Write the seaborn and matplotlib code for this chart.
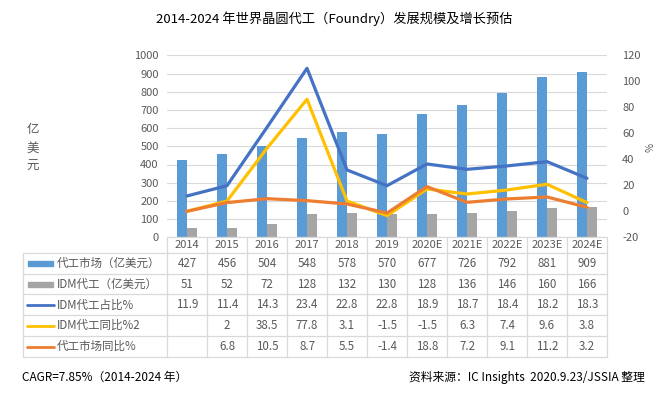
import pandas as pd
import seaborn as sns
import matplotlib.pyplot as plt
import matplotlib.transforms as mtransforms
from matplotlib.patches import Rectangle
from matplotlib.lines import Line2D

years = ['2014', '2015', '2016', '2017', '2018', '2019', '2020E', '2021E', '2022E', '2023E', '2024E']
foundry_market = [427, 456, 504, 548, 578, 570, 677, 726, 792, 881, 909]
idm_foundry = [51, 52, 72, 128, 132, 130, 128, 136, 146, 160, 166]

# line values as drawn in the picture (right axis, %)
idm_share_line = [11.8, 19.7, 64.6, 110.0, 31.8, 19.7, 36.4, 32.3, 34.9, 38.2, 25.4]
idm_yoy_line = [0.0, 7.9, 48.5, 86.2, 7.9, -3.3, 17.2, 13.3, 16.4, 20.8, 6.7]
market_yoy_line = [0.0, 6.7, 9.7, 8.2, 5.6, -1.3, 19.0, 6.9, 9.5, 11.0, 3.1]

# table texts
tbl_share = ['11.9', '11.4', '14.3', '23.4', '22.8', '22.8', '18.9', '18.7', '18.4', '18.2', '18.3']
tbl_idm_yoy = ['', '2', '38.5', '77.8', '3.1', '-1.5', '-1.5', '6.3', '7.4', '9.6', '3.8']
tbl_mkt_yoy = ['', '6.8', '10.5', '8.7', '5.5', '-1.4', '18.8', '7.2', '9.1', '11.2', '3.2']

row_names = ['代工市场（亿美元）', 'IDM代工（亿美元）', 'IDM代工占比%', 'IDM代工同比%2', '代工市场同比%']
c_bar1, c_bar2 = '#5B9BD5', '#A5A5A5'
c_l1, c_l2, c_l3 = '#4472C4', '#FFC000', '#ED7D31'
grey_txt = '#595959'
grid_c = '#D9D9D9'

sns.set_style('white')
plt.rcParams['font.family'] = ['Noto Sans CJK SC', 'DejaVu Sans']
plt.rcParams['axes.unicode_minus'] = False

W, H = 669, 393
fig = plt.figure(figsize=(W / 100, H / 100), dpi=100)
x0, x1, y0, y1 = 167, 607, 237.3, 55.3
ax = fig.add_axes([x0 / W, 1 - y0 / H, (x1 - x0) / W, (y0 - y1) / H])

df = pd.DataFrame({
    'year': years * 2,
    'value': foundry_market + idm_foundry,
    'series': ['代工市场（亿美元）'] * len(years) + ['IDM代工（亿美元）'] * len(years),
})
sns.barplot(data=df, x='year', y='value', hue='series', palette=[c_bar1, c_bar2],
            width=0.5, saturation=1, legend=False, linewidth=0, ax=ax)
ax.set_ylim(0, 1000)
ax.set_yticks(range(0, 1001, 100))
ax.set_xlim(-0.5, len(years) - 0.5)
ax.set_xlabel('')
ax.set_ylabel('')
ax.set_xticks([])
ax.grid(axis='y', color=grid_c, lw=0.8)
ax.set_axisbelow(True)
for s in ax.spines.values():
    s.set_visible(False)
ax.tick_params(axis='y', length=0, labelsize=8, labelcolor=grey_txt, pad=6)

ax2 = ax.twinx()
xs = list(range(len(years)))
for vals, col in [(idm_share_line, c_l1), (idm_yoy_line, c_l2), (market_yoy_line, c_l3)]:
    sns.lineplot(x=xs, y=vals, color=col, lw=2.3, ax=ax2)
ax2.set_ylim(-20, 120)
ax2.set_yticks(range(-20, 121, 20))
ax2.set_xlim(-0.5, len(years) - 0.5)
for s in ax2.spines.values():
    s.set_visible(False)
ax2.tick_params(axis='y', length=0, labelsize=8, labelcolor=grey_txt, pad=11)
ax2.set_xticks([])

# table below the plot
bt = mtransforms.blended_transform_factory(ax.transData, fig.transFigure)
ft = fig.transFigure
rows_y = [237.3, 253.3, 274, 294.3, 315.3, 336, 357.3]
fy = lambda p: 1 - p / H
line_kw = dict(color=grid_c, lw=0.9)
# horizontal lines
fig.add_artist(Line2D([x0 / W, x1 / W], [fy(rows_y[0])] * 2, transform=ft, **line_kw))
for ry in rows_y[1:]:
    fig.add_artist(Line2D([23 / W, x1 / W], [fy(ry)] * 2, transform=ft, **line_kw))
# vertical lines
for i in range(len(years) + 1):
    fig.add_artist(Line2D([i - 0.5, i - 0.5], [fy(rows_y[0]), fy(rows_y[-1])], transform=bt, **line_kw))
fig.add_artist(Line2D([23 / W, 23 / W], [fy(rows_y[1]), fy(rows_y[-1])], transform=ft, **line_kw))

mid = lambda k: fy((rows_y[k] + rows_y[k + 1]) / 2)
for i, y in enumerate(years):
    fig.text(i, mid(0), y, transform=bt, ha='center', va='center', fontsize=8, color=grey_txt)
table_rows = [[str(v) for v in foundry_market], [str(v) for v in idm_foundry], tbl_share, tbl_idm_yoy, tbl_mkt_yoy]
for r, vals in enumerate(table_rows):
    for i, v in enumerate(vals):
        fig.text(i, mid(r + 1), v, transform=bt, ha='center', va='center', fontsize=8.3, color=grey_txt)

key_colors = [c_bar1, c_bar2, c_l1, c_l2, c_l3]
for r, (name, col) in enumerate(zip(row_names, key_colors)):
    yc = mid(r + 1)
    if r < 2:
        fig.add_artist(Rectangle((28 / W, yc - 2.5 / H), 25 / W, 5 / H, transform=ft, color=col))
    else:
        fig.add_artist(Line2D([27 / W, 54 / W], [yc, yc], transform=ft, color=col, lw=2))
    fig.text(57 / W, yc, name, transform=ft, ha='left', va='center', fontsize=8.3, color=grey_txt)

fig.text(0.5, fy(19), '2014-2024 年世界晶圆代工（Foundry）发展规模及增长预估', ha='center', va='center',
         fontsize=9.5, color='black')
fig.text(33 / W, fy(148), '亿\n美\n元', ha='center', va='center', fontsize=9, color=grey_txt, linespacing=1.55)
fig.text(647 / W, fy(147), '%', ha='center', va='center', fontsize=7, color=grey_txt, rotation=-90)
fig.text(22 / W, fy(377), 'CAGR=7.85%（2014-2024 年）', ha='left', va='center', fontsize=8.5, color='black')
fig.text(645 / W, fy(377), '资料来源：IC Insights  2020.9.23/JSSIA 整理', ha='right', va='center',
         fontsize=8.5, color='black')

fig.savefig('out.png', dpi=100)
